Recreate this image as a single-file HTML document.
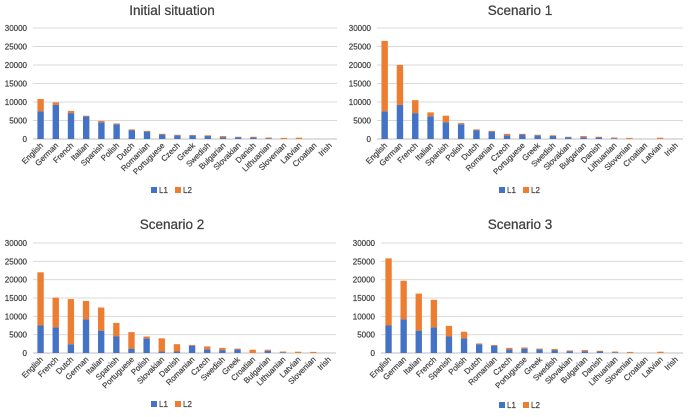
<!DOCTYPE html>
<html><head><meta charset="utf-8">
<style>
html,body{margin:0;padding:0;background:#fff;width:690px;height:417px;overflow:hidden}
svg{display:block;font-family:"Liberation Sans",sans-serif}
</style></head>
<body>
<svg id="c" width="690" height="417" viewBox="0 0 690 417"></svg>
<script>
const tickValues=[0,5000,10000,15000,20000,25000,30000];
const cats0=["English","German","French","Italian","Spanish","Polish","Dutch","Romanian","Portuguese","Czech","Greek","Swedish","Bulgarian","Slovakian","Danish","Lithuanian","Slovenian","Latvian","Croatian","Irish"];
const l1_0=[7500,9200,7000,6100,4500,4000,2400,2000,1200,1000,1000,800,500,500,400,200,0,0,0,0];
const l2_0=[3300,700,600,200,400,200,200,200,200,150,100,200,300,100,200,200,300,350,0,0];
const cats1=["English","German","French","Italian","Spanish","Polish","Dutch","Romanian","Czech","Portuguese","Greek","Swedish","Slovakian","Bulgarian","Danish","Lithuanian","Slovenian","Croatian","Latvian","Irish"];
const l1_1=[7500,9200,7000,6100,4500,4000,2400,2000,1000,1200,1000,800,500,500,400,200,0,0,0,0];
const l2_1=[19000,10800,3500,1100,1800,300,200,200,400,200,150,200,100,300,200,200,300,0,350,0];
const cats2=["English","French","Dutch","German","Italian","Spanish","Portuguese","Polish","Slovakian","Danish","Romanian","Czech","Swedish","Greek","Croatian","Bulgarian","Lithuanian","Latvian","Slovenian","Irish"];
const l1_2=[7500,7000,2400,9200,6100,4500,1200,4000,400,400,2000,1000,800,1000,0,600,200,0,0,0];
const l2_2=[14500,8100,12300,5000,6300,3700,4500,500,3600,2000,200,800,600,200,900,300,200,350,300,0];
const cats3=["English","German","Italian","French","Spanish","Polish","Dutch","Romanian","Czech","Portuguese","Greek","Swedish","Slovakian","Bulgarian","Danish","Lithuanian","Slovenian","Croatian","Latvian","Irish"];
const l1_3=[7500,9200,6100,7000,4500,4000,2400,2000,1000,1200,1000,800,500,500,400,200,0,0,0,0];
const l2_3=[18300,10500,10100,7500,2900,1800,200,200,400,300,200,300,200,300,200,200,300,0,350,0];
const titles=["Initial situation","Scenario 1","Scenario 2","Scenario 3"];

const NS="http://www.w3.org/2000/svg";
const svg=document.getElementById('c');
function mk(tag,attrs,parent){const e=document.createElementNS(NS,tag);for(const k in attrs)e.setAttribute(k,attrs[k]);parent.appendChild(e);return e;}
const panels=[
 {cats:cats0,a:l1_0,b:l2_0,x0:33,x1:337,yTop:28,yBot:139,ty:15,ly:193,tx:172},
 {cats:cats1,a:l1_1,b:l2_1,x0:377,x1:683,yTop:28,yBot:139,ty:15,ly:193,tx:520},
 {cats:cats2,a:l1_2,b:l2_2,x0:33,x1:336,yTop:243,yBot:353,ty:229,ly:407,tx:172},
 {cats:cats3,a:l1_3,b:l2_3,x0:381,x1:683,yTop:243,yBot:353,ty:229,ly:408,tx:520}
];
panels.forEach((p,pi)=>{
 const g=mk('g',{},svg);
 
 
 const yS=v=>p.yBot-(v/30000)*(p.yBot-p.yTop);
 const band=(p.x1-p.x0)/p.cats.length;
 const xS=i=>p.x0+band*(i+0.5);
 const t=mk('text',{x:p.tx,y:p.ty,'text-anchor':'middle','font-size':'13.5',fill:'#404040',stroke:'#404040','stroke-width':'0.25'},g);
 t.textContent=titles[pi];
 
 
 tickValues.forEach(v=>{
  const y=yS(v);
  const ln=mk('line',{x1:p.x0,x2:p.x1,y1:y,y2:y,stroke:v===0?'#bfbfbf':'#d9d9d9','stroke-width':1},g);
  
  
  const tl=mk('text',{x:p.x0-6,y:y+3,'text-anchor':'end','font-size':'8',fill:'#404040',stroke:'#404040','stroke-width':'0.2'},g);
  tl.textContent=v;
  
  
 });
 const bw=band*0.42;
 p.cats.forEach((c,i)=>{
  const cx=xS(i);
  const y1=yS(p.a[i]);
  const r1=mk('rect',{x:cx-bw/2,y:y1,width:bw,height:p.yBot-y1,fill:'#4472C4'},g);
  
  
  const y2=yS(p.a[i]+p.b[i]);
  const r2=mk('rect',{x:cx-bw/2,y:y2,width:bw,height:y1-y2,fill:'#ED7D31'},g);
  
  
  const lx=cx+3, ly=p.yBot+7;
  const lt=mk('text',{x:lx,y:ly,'text-anchor':'end','font-size':'8',fill:'#404040',stroke:'#404040','stroke-width':'0.2',transform:`rotate(-45 ${lx} ${ly})`},g);
  lt.textContent=c;
  
  
 });
 const lg=mk('g',{},g);
 
 
 const lx0=p.tx-11;
 mk('rect',{x:lx0-10,y:p.ly-6,width:6,height:6,fill:'#4472C4'},lg);
 const a=mk('text',{x:lx0-2,y:p.ly,'font-size':'8',fill:'#404040',stroke:'#404040','stroke-width':'0.2'},lg);a.textContent='L1';
 
 
 mk('rect',{x:lx0+14,y:p.ly-6,width:6,height:6,fill:'#ED7D31'},lg);
 const b=mk('text',{x:lx0+22,y:p.ly,'font-size':'8',fill:'#404040',stroke:'#404040','stroke-width':'0.2'},lg);b.textContent='L2';
 
 
});
</script>
</body></html>
